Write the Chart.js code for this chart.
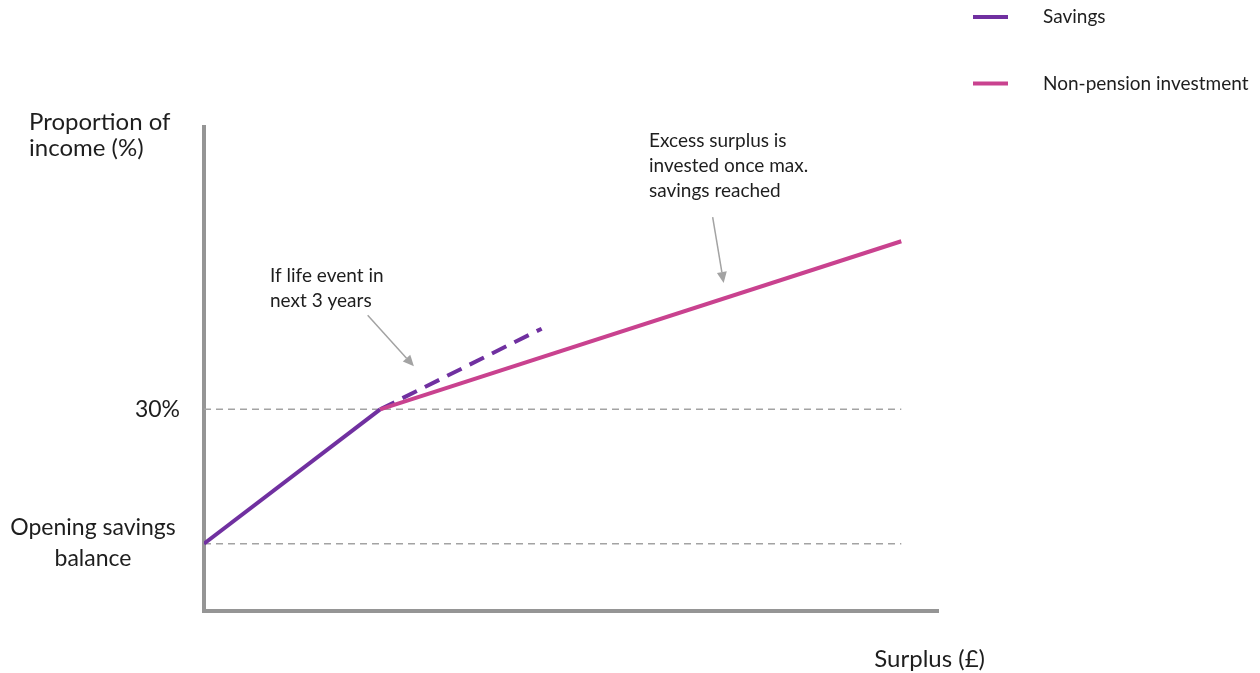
<!DOCTYPE html>
<html>
<head>
<meta charset="utf-8">
<title>Savings and non-pension investment by surplus</title>
<script src="https://cdn.jsdelivr.net/npm/chart.js@4/dist/chart.umd.min.js"></script>
<style>
  html, body { margin: 0; padding: 0; background: #ffffff; }
  #wrap { width: 1260px; height: 673px; position: relative; }
</style>
</head>
<body>
<div id="wrap"><canvas id="chart" width="1260" height="673"></canvas></div>
<script>
// Surplus (x) against proportion of income (y), in schematic units
const savingsX = [0, 24];
const savingsY = [10, 30];
const lifeEventX = [24, 46];
const lifeEventY = [30, 42];
const investX = [24, 95];
const investY = [30, 55];

// Horizontal reference levels and their labels
const guideLevels = [10, 30];
const guideLabels = [['Opening savings', 'balance'], ['30%']];
const guideSpanX = [0, 95];

// Axis extents
const xRange = [0, 100];
const yRange = [0, 72];

// Callout notes: text lines, arrow tail and arrow head in data units
const noteLifeEvent = ['If life event in', 'next 3 years'];
const noteLifeEventArrow = [[22.3, 44.0], [28.6, 36.4]];
const noteExcess = ['Excess surplus is', 'invested once max.', 'savings reached'];
const noteExcessArrow = [[69.3, 58.6], [70.8, 48.8]];

const legendNames = ['Savings', 'Non-pension investment'];

const PURPLE = '#7030a0';
const PINK = '#c9428f';
const AXIS = '#959595';
const GUIDE = '#a3a3a3';
const INK = '#1e1e1e';
const FONT = 'Lato, "Open Sans", sans-serif';

const toPoints = (xs, ys) => xs.map((v, i) => ({ x: v, y: ys[i] }));

const datasets = [
  { label: legendNames[1], data: toPoints(investX, investY), borderColor: PINK, borderWidth: 4, order: 0, legend: true },
  { label: legendNames[0], data: toPoints(savingsX, savingsY), borderColor: PURPLE, borderWidth: 4, order: 1, legend: true },
  { label: legendNames[0] + ' (life event)', data: toPoints(lifeEventX, lifeEventY), borderColor: PURPLE, borderWidth: 4, borderDash: [16, 9], order: 2 },
];
guideLevels.forEach((lvl, i) => {
  datasets.push({
    label: 'guide' + i,
    data: toPoints(guideSpanX, [lvl, lvl]),
    borderColor: GUIDE, borderWidth: 1.5, borderDash: [7, 5], order: 5
  });
});
datasets.forEach(d => { d.pointRadius = 0; d.pointHoverRadius = 0; d.fill = false; d.tension = 0; d.borderCapStyle = 'butt'; });

function drawArrow(ctx, x0, y0, x1, y1) {
  const ang = Math.atan2(y1 - y0, x1 - x0);
  const head = 11, half = 5;
  ctx.save();
  ctx.strokeStyle = GUIDE; ctx.fillStyle = GUIDE; ctx.lineWidth = 1.5;
  ctx.beginPath();
  ctx.moveTo(x0, y0);
  ctx.lineTo(x1 - head * Math.cos(ang), y1 - head * Math.sin(ang));
  ctx.stroke();
  ctx.beginPath();
  ctx.moveTo(x1, y1);
  ctx.lineTo(x1 - head * Math.cos(ang) + half * Math.sin(ang), y1 - head * Math.sin(ang) - half * Math.cos(ang));
  ctx.lineTo(x1 - head * Math.cos(ang) - half * Math.sin(ang), y1 - head * Math.sin(ang) + half * Math.cos(ang));
  ctx.closePath();
  ctx.fill();
  ctx.restore();
}

function drawLines(ctx, lines, x, y, lh, align) {
  ctx.textAlign = align;
  lines.forEach((t, i) => ctx.fillText(t, x, y + i * lh));
}

const diagramText = {
  id: 'diagramText',
  afterDraw(chart) {
    const { ctx } = chart;
    const xs = chart.scales.x, ys = chart.scales.y;
    const area = chart.chartArea;
    ctx.save();
    ctx.fillStyle = INK;
    ctx.textBaseline = 'middle';

    // Axis titles
    ctx.font = '24px ' + FONT;
    drawLines(ctx, ['Proportion of', 'income (%)'], 29, area.top - 5, 26, 'left');
    ctx.textAlign = 'right';
    ctx.fillText('Surplus (£)', area.right + 47, area.bottom + 48);

    // Reference level labels
    ctx.font = '23px ' + FONT;
    guideLevels.forEach((lvl, i) => {
      const py = ys.getPixelForValue(lvl);
      const lines = guideLabels[i];
      if (lines.length === 1) {
        drawLines(ctx, lines, area.left - 24, py, 30, 'right');
      } else {
        drawLines(ctx, lines, area.left - 111, py - 16, 31, 'center');
      }
    });

    // Callouts
    ctx.font = '19px ' + FONT;
    drawLines(ctx, noteLifeEvent, 270, 276, 25, 'left');
    drawLines(ctx, noteExcess, 649, 141, 25, 'left');
    [noteLifeEventArrow, noteExcessArrow].forEach(a => {
      drawArrow(ctx,
        xs.getPixelForValue(a[0][0]), ys.getPixelForValue(a[0][1]),
        xs.getPixelForValue(a[1][0]), ys.getPixelForValue(a[1][1]));
    });

    // Legend
    const items = chart.data.datasets.filter(d => d.legend).sort((a, b) => legendNames.indexOf(a.label) - legendNames.indexOf(b.label));
    items.forEach((d, i) => {
      const cy = 17 + i * 66.5;
      ctx.strokeStyle = d.borderColor;
      ctx.lineWidth = 4;
      ctx.beginPath();
      ctx.moveTo(973, cy); ctx.lineTo(1008, cy);
      ctx.stroke();
      ctx.textAlign = 'left';
      ctx.fillText(d.label, 1043, cy);
    });
    ctx.restore();
  }
};

new Chart(document.getElementById('chart'), {
  type: 'line',
  data: { datasets },
  options: {
    responsive: false,
    animation: false,
    events: [],
    layout: { padding: { left: 204, right: 322, top: 127, bottom: 62 } },
    plugins: { legend: { display: false }, tooltip: { enabled: false } },
    scales: {
      x: {
        type: 'linear', min: xRange[0], max: xRange[1],
        grid: { display: false, drawTicks: false },
        ticks: { display: false },
        border: { display: true, color: AXIS, width: 4 }
      },
      y: {
        type: 'linear', min: yRange[0], max: yRange[1],
        grid: { display: false, drawTicks: false },
        ticks: { display: false },
        border: { display: true, color: AXIS, width: 4 }
      }
    }
  },
  plugins: [diagramText]
});
</script>
</body>
</html>
